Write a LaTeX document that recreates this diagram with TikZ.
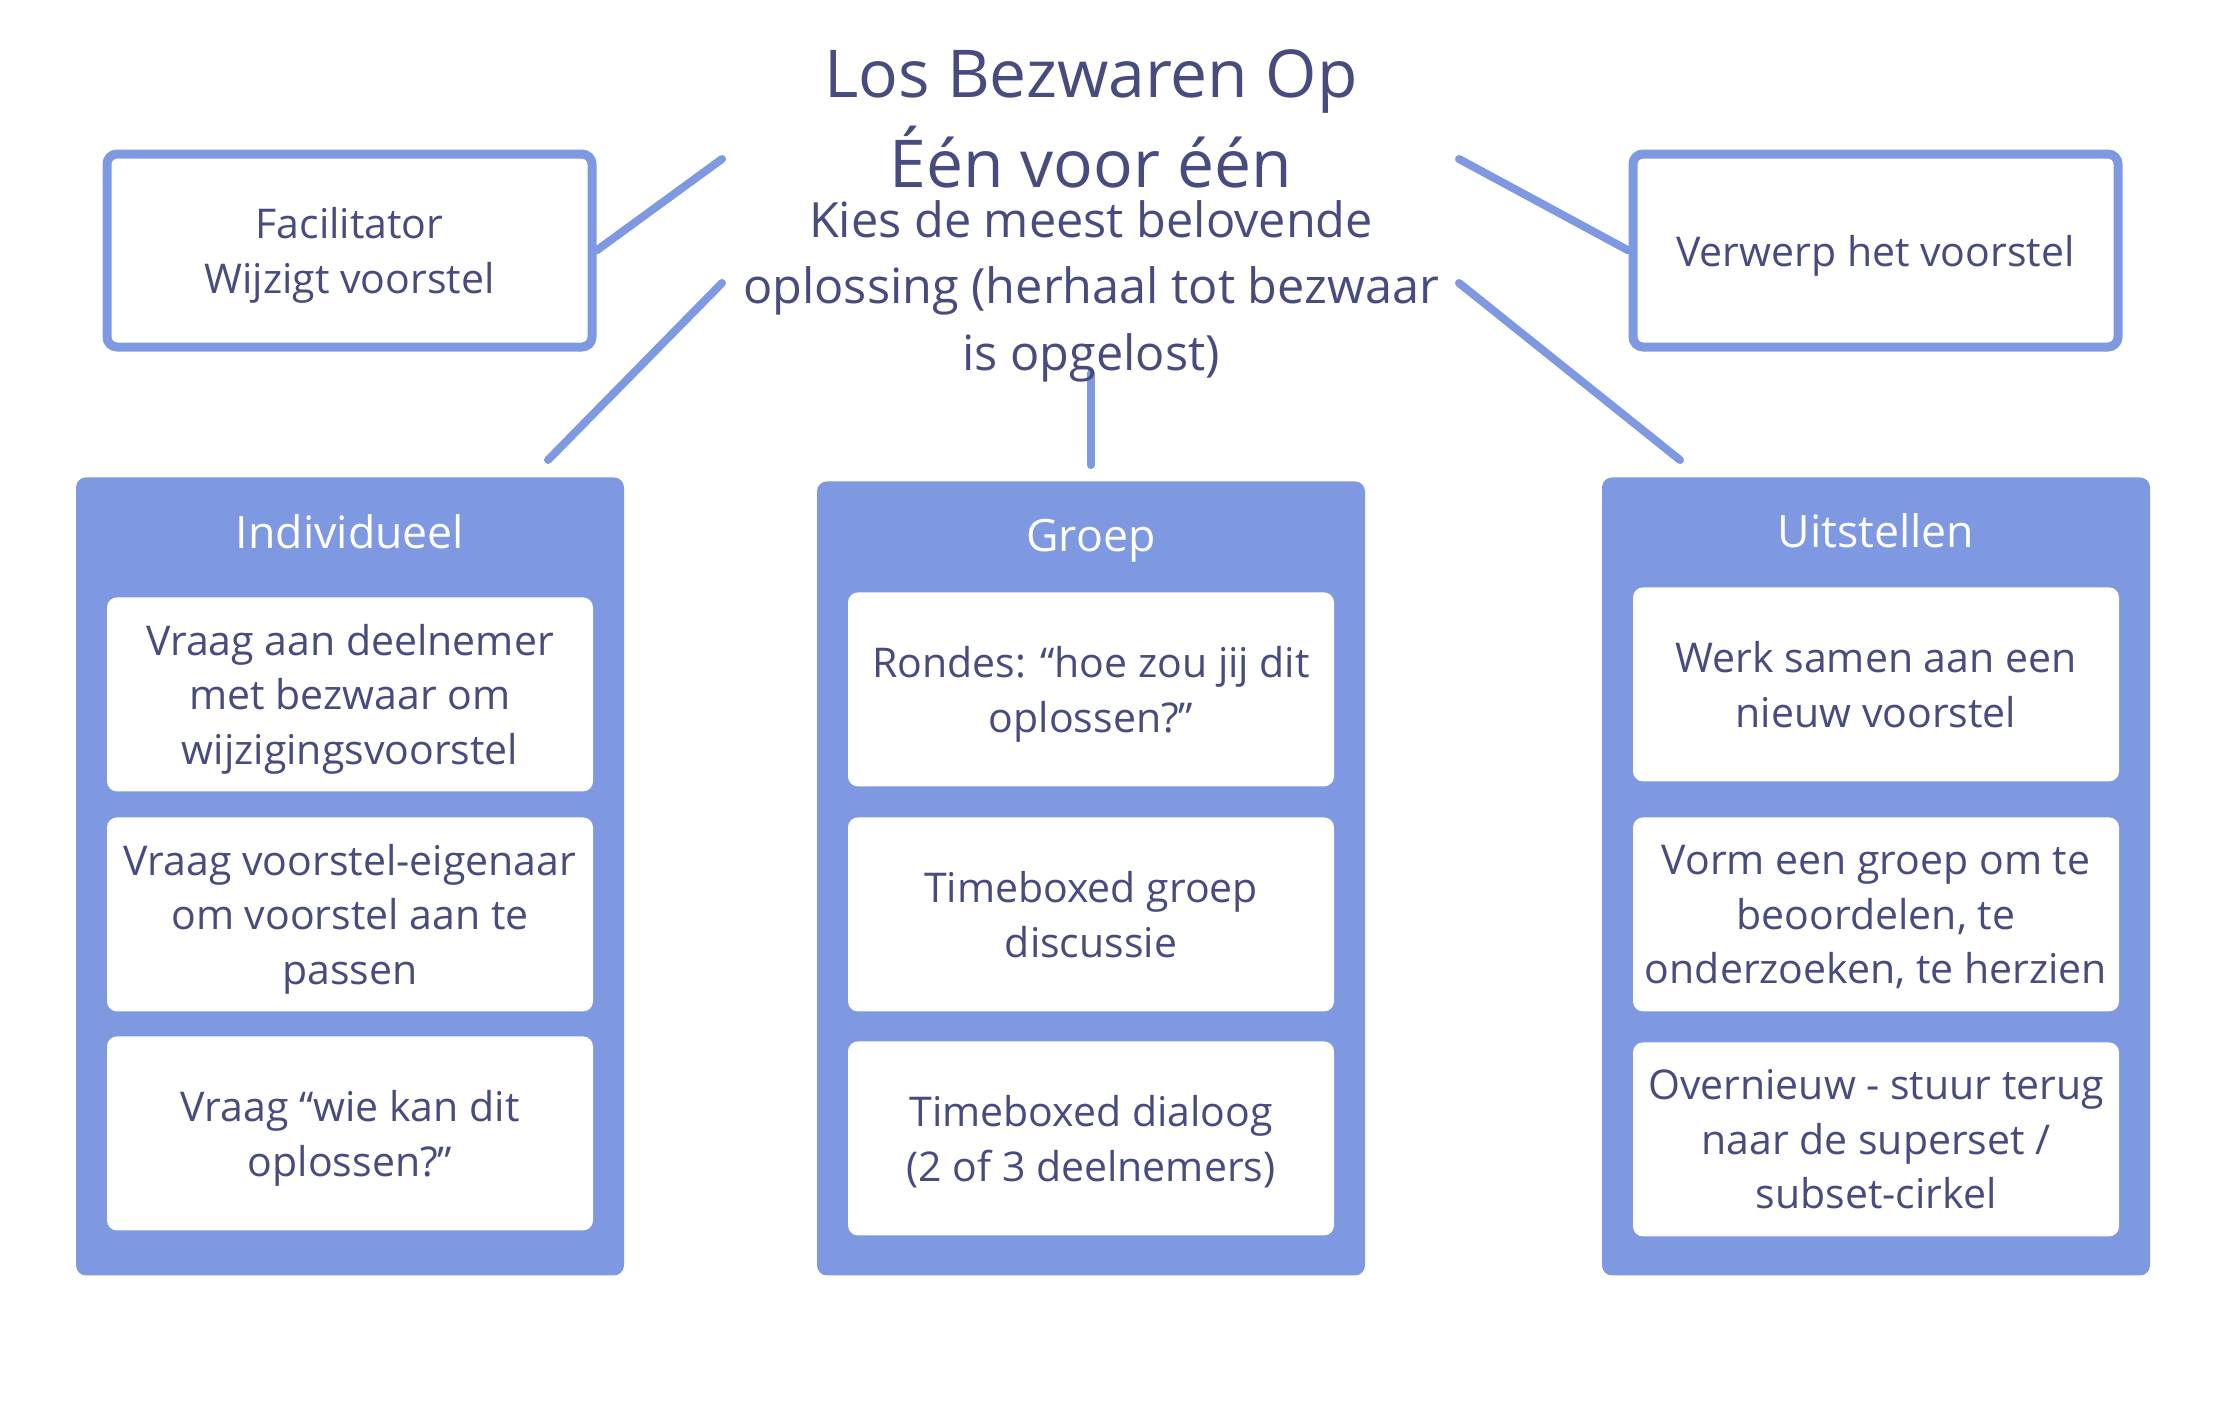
\documentclass[tikz,border=0pt]{standalone}
\usepackage{fontspec}
\setmainfont{Open Sans}
\usetikzlibrary{positioning, backgrounds}
\definecolor{ink}{HTML}{484B7E}
\definecolor{accent}{HTML}{7E98E2}

\begin{document}
\begin{tikzpicture}[x=0.5pt, y=-0.5pt, every node/.style={text=ink, inner sep=0pt},
    outline/.style={draw=accent, line width=4.5pt, rounded corners=5pt, fill=white,
                    minimum width=242.5pt, minimum height=96.5pt, align=center, text depth=0pt,
                    font=\fontsize{20.5}{27.5}\selectfont},
    column/.style={fill=accent, rounded corners=5pt, minimum width=274pt, anchor=north},
    item/.style={fill=white, rounded corners=5pt, minimum width=243pt, minimum height=97pt,
                 anchor=north, align=center, text depth=0pt, font=\fontsize{20.5}{27.25}\selectfont},
    header/.style={text=white, anchor=base, font=\fontsize{22.3}{28}\selectfont},
    link/.style={draw=accent, line width=4pt, line cap=round},
]

% Canvas
\useasboundingbox (0,0) rectangle (2216,1419);

% Title and question (base = last line)
\node[anchor=base, align=center, font=\fontsize{33}{45}\selectfont] (title) at (1091,187)
    {Los Bezwaren Op\\Één voor één};
\node[anchor=base, align=center, font=\fontsize{24.3}{33.25}\selectfont] (question) at (1091,370)
    {Kies de meest belovende\\oplossing (herhaal tot bezwaar\\is opgelost)};

% Side options
\node[outline] (facil) at (349.5,250.5) {Facilitator\\Wijzigt voorstel};
\node[outline] (reject) at (1875.5,250.5) {Verwerp het voorstel};

% Columns
\node[column, minimum height=399pt] (indiv) at (350,477) {};
\node[column, minimum height=397pt] (group) at (1091,481) {};
\node[column, minimum height=399pt] (defer) at (1876,477) {};

\node[header] (indiv-head) at ([yshift=-35.5pt]indiv.north) {Individueel};
\node[header] (group-head) at ([yshift=-35pt]group.north) {Groep};
\node[header] (defer-head) at ([yshift=-35pt]defer.north) {Uitstellen};

% Individueel
\node[item] (indiv1) at ([yshift=-60pt]indiv.north) {Vraag aan deelnemer\\met bezwaar om\\wijzigingsvoorstel};
\node[item] (indiv2) at ([yshift=-170pt]indiv.north) {Vraag voorstel-eigenaar\\om voorstel aan te\\passen};
\node[item] (indiv3) at ([yshift=-279.5pt]indiv.north) {Vraag “wie kan dit\\oplossen?”};

% Groep
\node[item] (group1) at ([yshift=-55.5pt]group.north) {Rondes: “hoe zou jij dit\\oplossen?”};
\node[item] (group2) at ([yshift=-168pt]group.north) {Timeboxed groep\\discussie};
\node[item] (group3) at ([yshift=-280pt]group.north) {Timeboxed dialoog\\(2 of 3 deelnemers)};

% Uitstellen
\node[item] (defer1) at ([yshift=-55pt]defer.north) {Werk samen aan een\\nieuw voorstel};
\node[item] (defer2) at ([yshift=-170pt]defer.north) {Vorm een groep om te\\beoordelen, te\\onderzoeken, te herzien};
\node[item] (defer3) at ([yshift=-282.5pt]defer.north) {Overnieuw - stuur terug\\naar de superset /\\subset-cirkel};

% Connectors, behind the boxes
\coordinate (facil-end) at (722,159);
\coordinate (indiv-end) at (722,283);
\coordinate (group-end) at (1091,373);
\coordinate (reject-end) at (1459,159);
\coordinate (defer-end) at (1459,283);
\begin{scope}[on background layer]
    \draw[link] (facil.east) -- (facil-end);
    \draw[link] ([xshift=99pt, yshift=8.5pt]indiv.north) -- (indiv-end);
    \draw[link] ([yshift=8pt]group.north) -- (group-end);
    \draw[link] (reject.west) -- (reject-end);
    \draw[link] ([xshift=-98pt, yshift=8.5pt]defer.north) -- (defer-end);
\end{scope}

\end{tikzpicture}
\end{document}
